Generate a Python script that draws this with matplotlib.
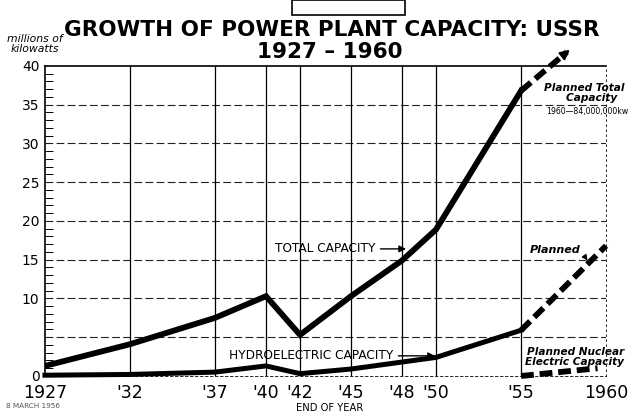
'''
Growth of power plant capacity in the USSR, 1927 - 1960
'''
import matplotlib
matplotlib.use('Agg')
import matplotlib.pyplot as plt
from matplotlib.patches import Rectangle

# ------------------------------------
years        = [1927, 1932, 1937, 1940, 1942, 1945, 1948, 1950, 1955]
total_cap    = [1.3, 4.1, 7.5, 10.3, 5.3, 10.3, 14.9, 18.9, 36.8]
hydro_cap    = [0.1, 0.2, 0.5, 1.3, 0.3, 0.9, 1.8, 2.4, 5.9]

plan_tot_yrs = [1955, 1957.7]
plan_tot     = [36.8, 41.8]
plan_hyd_yrs = [1955, 1960]
plan_hyd     = [5.9, 16.8]
plan_nuc_yrs = [1955, 1959.5]
plan_nuc     = [0.0, 1.0]

tick_years   = [1927, 1932, 1937, 1940, 1942, 1945, 1948, 1950, 1955, 1960]
tick_labels  = ['1927', "'32", "'37", "'40", "'42", "'45", "'48", "'50", "'55", '1960']
y_ticks      = [0, 5, 10, 15, 20, 25, 30, 35, 40]
y_labels     = ['0', '', '10', '15', '20', '25', '30', '35', '40']

FONT = ['Liberation Sans Narrow', 'DejaVu Sans']
W, H = 629, 415
# ------------------------------------
def _frame(ax) -> None:
    ax.set_xlim(1927, 1960)
    ax.set_ylim(0, 40)

    for yv in y_ticks[1:-1]:
        ax.axhline(yv, color='#222222', lw=0.8, ls=(0, (7, 3)), zorder=1)
    for xv in tick_years[1:-1]:
        ax.axvline(xv, color='black', lw=0.9, zorder=1)

    for side in ['left', 'top']:
        ax.spines[side].set_linewidth(1.2)
    ax.spines['right'].set_linestyle((0, (2, 4)))
    ax.spines['right'].set_linewidth(0.6)
    ax.spines['bottom'].set_linestyle((0, (3, 3)))
    ax.spines['bottom'].set_linewidth(0.6)

    ax.set_xticks(tick_years)
    ax.set_xticklabels(tick_labels, fontsize=12.5, family=FONT)
    ax.set_yticks(y_ticks)
    ax.set_yticklabels(y_labels, fontsize=10, family=FONT)
    ax.set_yticks(range(0, 41), minor=True)
    ax.tick_params(axis='x', length=0, pad=6)
    ax.tick_params(axis='y', which='major', length=0, pad=4)
    ax.tick_params(axis='y', which='minor', direction='in', length=6, width=0.7)
# ------------------------------------
def _lines(ax) -> None:
    ax.plot(years, total_cap, color='black', lw=4.2, solid_joinstyle='miter', zorder=3)
    ax.plot(years, hydro_cap, color='black', lw=3.6, solid_joinstyle='miter', zorder=3, clip_on=False)

    dash = (0, (2.2, 1.0))
    ax.plot(plan_tot_yrs, plan_tot, color='black', lw=4.2, ls=dash, zorder=3, clip_on=False)
    ax.annotate('', xy=(plan_tot_yrs[1] + 0.3, plan_tot[1] + 0.5), xytext=(plan_tot_yrs[1] - 0.1, plan_tot[1] - 0.2),
                arrowprops=dict(arrowstyle='-|>', color='black', lw=1.5, mutation_scale=14),
                annotation_clip=False)
    ax.plot(plan_hyd_yrs, plan_hyd, color='black', lw=4.2, ls=dash, zorder=3, clip_on=False)
    ax.plot(plan_nuc_yrs, plan_nuc, color='black', lw=4.2, ls=dash, zorder=3, clip_on=False)
# ------------------------------------
def _fig_text(fig, x, y, text, **kwargs) -> None:
    fig.text(x / W, 1 - y / H, text, family=FONT, **kwargs)
# ------------------------------------
def _labels(ax, fig) -> None:
    arrow = dict(arrowstyle='-|>', color='black', lw=1.0, mutation_scale=10)
    ax.annotate('TOTAL CAPACITY', xy=(1948.4, 16.4), xytext=(1940.5, 16.4), fontsize=8.7,
                family=FONT, va='center', ha='left', arrowprops=arrow)
    ax.annotate('HYDROELECTRIC CAPACITY', xy=(1950.1, 2.6), xytext=(1937.8, 2.6), fontsize=8.7,
                family=FONT, va='center', ha='left', arrowprops=arrow)
    ax.annotate('Planned', xy=(1959.0, 14.6), xytext=(1957.0, 16.2), fontsize=8, style='italic',
                weight='bold', family=FONT, ha='center', va='center',
                arrowprops=dict(arrowstyle='-|>', color='black', lw=0.9, mutation_scale=8,
                                shrinkA=1, connectionstyle='arc3,rad=-0.4'))

    ital = dict(fontsize=7.6, style='italic', weight='bold', ha='right', va='center', linespacing=0.95)
    _fig_text(fig, 625, 93, 'Planned Total\nCapacity  ', **ital)
    _fig_text(fig, 628, 111, '1960\u201484,000,000kw', fontsize=5.6, ha='right', va='center')
    _fig_text(fig, 624, 357, 'Planned Nuclear\nElectric Capacity', **ital)

    _fig_text(fig, 332, 30, 'GROWTH OF POWER PLANT CAPACITY: USSR', fontsize=15.5, weight='heavy',
              ha='center', va='center')
    _fig_text(fig, 330, 52, '1927 \u2013 1960', fontsize=15.5, weight='heavy', ha='center', va='center')
    _fig_text(fig, 35, 44, 'millions of\nkilowatts', fontsize=7.8, style='italic', ha='center',
              va='center', linespacing=0.95)
    _fig_text(fig, 330, 408, 'END OF YEAR', fontsize=7.2, ha='center', va='center')
    _fig_text(fig, 6, 406, '8 MARCH 1956', fontsize=5.2, color='#555555', ha='left', va='center')

    box = Rectangle((292 / W, 1 - 15 / H), 113 / W, 15 / H, transform=fig.transFigure,
                    facecolor='white', edgecolor='black', lw=1.2)
    fig.patches.append(box)
# ------------------------------------
def main():
    '''
    start here
    '''
    fig = plt.figure(figsize=(W / 100, H / 100), dpi=100)
    ax  = fig.add_axes([0.0715, 0.094, 0.892, 0.747])

    _frame(ax)
    _lines(ax)
    _labels(ax, fig)

    fig.savefig('out.png', dpi=100)
    plt.close(fig)
# ------------------------------------
if __name__ == '__main__':
    main()
